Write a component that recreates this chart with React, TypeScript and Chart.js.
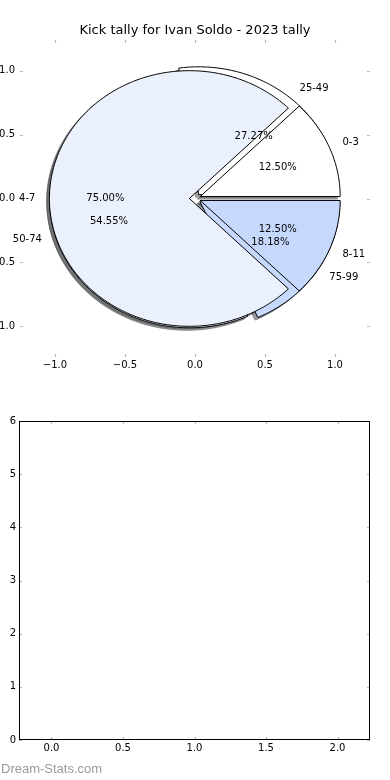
import React, { useEffect, useRef } from 'react';
import { Chart, registerables } from 'chart.js';

Chart.register(...registerables);

const chartTitle = 'Kick tally for Ivan Soldo - 2023 tally';
const innerLabels = ['0-3', '4-7', '8-11'];
const innerValues = [1, 6, 1];
const outerLabels = ['25-49', '50-74', '75-99'];
const outerValues = [3, 6, 2];
const sliceColors = ['#ffffff', '#eaf1fd', '#c6d9fd'];
const explodeOffset = 0.04;
const pieTicks = [-1, -0.5, 0, 0.5, 1];
const emptyXTicks = [0, 0.5, 1, 1.5, 2];
const emptyYTicks = [0, 1, 2, 3, 4, 5, 6];
const watermark = 'Dream-Stats.com';

const FONT = '"DejaVu Sans", sans-serif';

type Wedge = { t1: number; t2: number; mid: number; cx: number; cy: number; frac: number };

function buildWedges(values: number[]): Wedge[] {
  const total = values.reduce((a, b) => a + b, 0);
  let acc = 0;
  return values.map((v) => {
    const frac = v / total;
    const t1 = acc * 2 * Math.PI;
    acc += frac;
    const t2 = acc * 2 * Math.PI;
    const mid = (t1 + t2) / 2;
    return { t1, t2, mid, cx: explodeOffset * Math.cos(mid), cy: explodeOffset * Math.sin(mid), frac };
  });
}

function hexToRgb(h: string): number[] {
  const s = h.replace('#', '');
  return [0, 2, 4].map((i) => parseInt(s.slice(i, i + 2), 16));
}

function tracePath(ctx: CanvasRenderingContext2D, chart: any, w: Wedge, dx: number, dy: number) {
  const xs = chart.scales.x;
  const ys = chart.scales.y;
  const px = (v: number) => xs.getPixelForValue(v);
  const py = (v: number) => ys.getPixelForValue(v);
  ctx.beginPath();
  ctx.moveTo(px(w.cx + dx), py(w.cy + dy));
  const n = Math.max(8, Math.ceil((w.t2 - w.t1) / (Math.PI / 180)));
  for (let k = 0; k <= n; k++) {
    const t = w.t1 + ((w.t2 - w.t1) * k) / n;
    ctx.lineTo(px(w.cx + dx + Math.cos(t)), py(w.cy + dy + Math.sin(t)));
  }
  ctx.closePath();
}

const piePlugin = {
  id: 'pies',
  afterDatasetsDraw(chart: any) {
    const ctx: CanvasRenderingContext2D = chart.ctx;
    const xs = chart.scales.x;
    const ys = chart.scales.y;
    const groups = [
      { labels: outerLabels, wedges: buildWedges(outerValues) },
      { labels: innerLabels, wedges: buildWedges(innerValues) },
    ];
    ctx.save();
    // shadows
    groups.forEach((g) =>
      g.wedges.forEach((w, i) => {
        const [r, gg, b] = hexToRgb(sliceColors[i % sliceColors.length]);
        const c = `rgba(${Math.round(r * 0.3)},${Math.round(gg * 0.3)},${Math.round(b * 0.3)},0.5)`;
        tracePath(ctx, chart, w, -0.02, -0.02);
        ctx.fillStyle = c;
        ctx.fill();
        ctx.strokeStyle = c;
        ctx.lineWidth = 1;
        ctx.stroke();
      })
    );
    // wedges
    groups.forEach((g) =>
      g.wedges.forEach((w, i) => {
        tracePath(ctx, chart, w, 0, 0);
        ctx.fillStyle = sliceColors[i % sliceColors.length];
        ctx.fill();
        ctx.strokeStyle = '#000000';
        ctx.lineWidth = 1;
        ctx.lineJoin = 'miter';
        ctx.stroke();
      })
    );
    // texts
    ctx.font = `10px ${FONT}`;
    ctx.fillStyle = '#000000';
    ctx.textBaseline = 'middle';
    groups.forEach((g) =>
      g.wedges.forEach((w, i) => {
        const lx = w.cx + 1.1 * Math.cos(w.mid);
        const ly = w.cy + 1.1 * Math.sin(w.mid);
        ctx.textAlign = lx > 0 ? 'left' : 'right';
        ctx.fillText(g.labels[i], xs.getPixelForValue(lx), ys.getPixelForValue(ly));
        const tx = w.cx + 0.6 * Math.cos(w.mid);
        const ty = w.cy + 0.6 * Math.sin(w.mid);
        ctx.textAlign = 'center';
        ctx.fillText((w.frac * 100).toFixed(2) + '%', xs.getPixelForValue(tx), ys.getPixelForValue(ty));
      })
    );
    // title
    ctx.font = `13px ${FONT}`;
    ctx.textAlign = 'center';
    ctx.textBaseline = 'alphabetic';
    ctx.fillText(chartTitle, (chart.chartArea.left + chart.chartArea.right) / 2, chart.chartArea.top - 6);
    ctx.restore();
  },
};

const tickMarkPlugin = {
  id: 'tickMarks',
  afterDraw(chart: any, _args: any, opts: any) {
    const ctx: CanvasRenderingContext2D = chart.ctx;
    const a = chart.chartArea;
    const xs = chart.scales.x;
    const ys = chart.scales.y;
    const len = 3;
    ctx.save();
    ctx.strokeStyle = '#b8b8b8';
    ctx.lineWidth = 1.2;
    ctx.beginPath();
    xs.ticks.forEach((t: any) => {
      const x = Math.round(xs.getPixelForValue(t.value)) + 0.5;
      ctx.moveTo(x, a.top);
      ctx.lineTo(x, a.top + len);
      ctx.moveTo(x, a.bottom);
      ctx.lineTo(x, a.bottom - len);
    });
    ys.ticks.forEach((t: any) => {
      const y = Math.round(ys.getPixelForValue(t.value)) + 0.5;
      ctx.moveTo(a.left, y);
      ctx.lineTo(a.left + len, y);
      ctx.moveTo(a.right, y);
      ctx.lineTo(a.right - len, y);
    });
    ctx.stroke();
    if (opts && opts.frame) {
      ctx.strokeStyle = '#000000';
      ctx.lineWidth = 1;
      ctx.strokeRect(Math.round(a.left) + 0.5, Math.round(a.top) + 0.5, Math.round(a.right - a.left) - 1, Math.round(a.bottom - a.top) - 1);
    }
    if (opts && opts.watermark) {
      ctx.font = '13px "Liberation Sans", Arial, sans-serif';
      ctx.fillStyle = '#9a9a9a';
      ctx.textAlign = 'left';
      ctx.textBaseline = 'alphabetic';
      ctx.fillText(opts.watermark, 1, chart.height - 7);
    }
    ctx.restore();
  },
};

const fmt1 = (v: any) => Number(v).toFixed(1).replace('-', '\u2212');
const fmt0 = (v: any) => String(Math.round(Number(v)));

function makeAxis(
  ticks: number[],
  min: number,
  max: number,
  isX: boolean,
  size: number,
  pad: number,
  cb: (v: any) => string
) {
  return {
    type: 'linear' as const,
    min,
    max,
    grid: { display: false, drawTicks: false },
    border: { display: false },
    afterBuildTicks: (scale: any) => {
      scale.ticks = ticks.map((v) => ({ value: v }));
    },
    afterFit: (scale: any) => {
      if (isX) scale.height = size;
      else scale.width = size;
    },
    ticks: {
      autoSkip: false,
      maxRotation: 0,
      padding: pad,
      color: '#000000',
      font: { family: FONT, size: 10 },
      callback: cb,
    },
  };
}

function PieCanvas() {
  const ref = useRef<HTMLCanvasElement>(null);
  useEffect(() => {
    if (!ref.current) return;
    const chart = new Chart(ref.current, {
      type: 'scatter',
      data: { datasets: [{ data: [] }] },
      plugins: [piePlugin, tickMarkPlugin],
      options: {
        animation: false,
        responsive: false,
        layout: { padding: { top: 40, right: 20, left: 0, bottom: 0 } },
        plugins: { legend: { display: false }, tooltip: { enabled: false }, tickMarks: { frame: false } } as any,
        scales: {
          x: makeAxis(pieTicks, -1.25, 1.25, true, 33, 2, fmt1),
          y: makeAxis(pieTicks, -1.24, 1.24, false, 20, 5, fmt1),
        },
      },
    });
    return () => chart.destroy();
  }, []);
  return <canvas ref={ref} width={390} height={390} style={{ display: 'block', width: 390, height: 390 }} />;
}

function EmptyCanvas() {
  const ref = useRef<HTMLCanvasElement>(null);
  useEffect(() => {
    if (!ref.current) return;
    const chart = new Chart(ref.current, {
      type: 'scatter',
      data: { datasets: [{ data: [] }] },
      plugins: [tickMarkPlugin],
      options: {
        animation: false,
        responsive: false,
        layout: { padding: { top: 31, right: 20, left: 0, bottom: 0 } },
        plugins: {
          legend: { display: false },
          tooltip: { enabled: false },
          tickMarks: { frame: true, watermark },
        } as any,
        scales: {
          x: makeAxis(emptyXTicks, -0.227, 2.227, true, 40, 2, fmt1),
          y: makeAxis(emptyYTicks, 0, 6, false, 19, 3, fmt0),
        },
      },
    });
    return () => chart.destroy();
  }, []);
  return <canvas ref={ref} width={390} height={390} style={{ display: 'block', width: 390, height: 390 }} />;
}

export default function App() {
  return (
    <div style={{ position: 'absolute', left: 0, top: 0, width: 390, height: 780, background: '#ffffff' }}>
      <PieCanvas />
      <EmptyCanvas />
    </div>
  );
}
